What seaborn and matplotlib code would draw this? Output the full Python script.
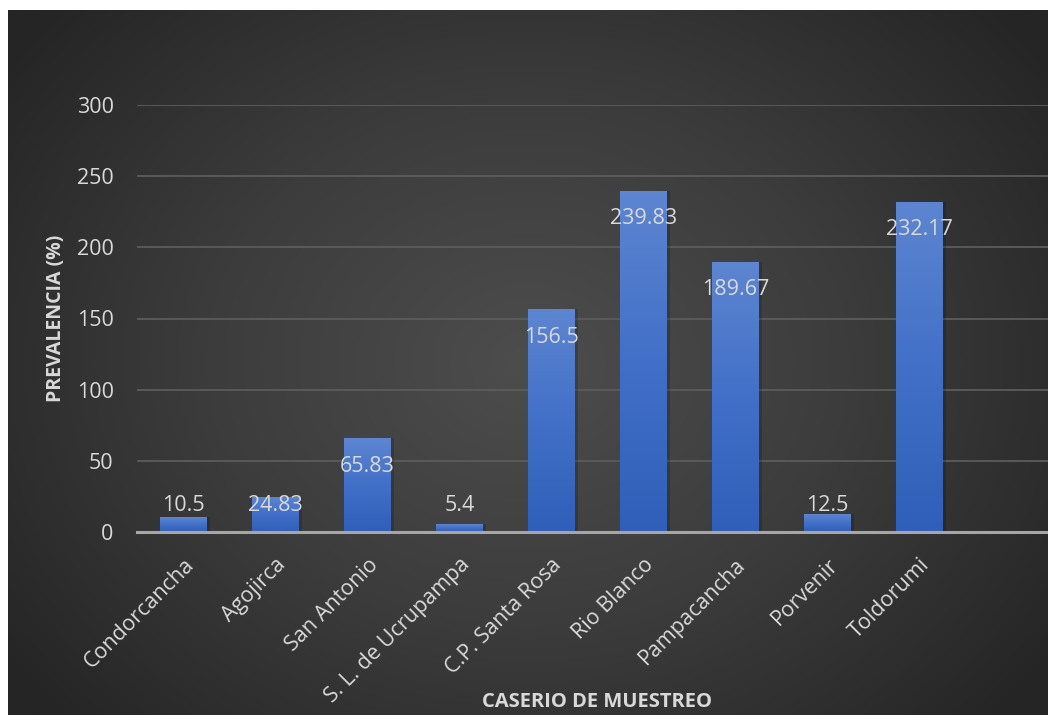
import numpy as np
import pandas as pd
import matplotlib
matplotlib.use("Agg")
import matplotlib.pyplot as plt
import seaborn as sns
from matplotlib.colors import LinearSegmentedColormap

categories = ["Condorcancha", "Agojirca", "San Antonio", "S. L. de Ucrupampa",
              "C.P. Santa Rosa", "Rio Blanco", "Pampacancha", "Porvenir", "Toldorumi"]
values = [10.5, 24.83, 65.83, 5.4, 156.5, 239.83, 189.67, 12.5, 232.17]
labels = ["10.5", "24.83", "65.83", "5.4", "156.5", "239.83", "189.67", "12.5", "232.17"]
yticks = [0, 50, 100, 150, 200, 250, 300]

sns.set_theme(style="white")
plt.rcParams['font.family'] = ['Open Sans', 'DejaVu Sans']

W, H = 1048, 715
fig = plt.figure(figsize=(W / 100, H / 100), dpi=100)
fig.patch.set_facecolor("white")

# dark radial-gradient panel
bg = fig.add_axes([8 / W, 0, 1 - 8 / W, 1 - 10 / H])
bg.set_axis_off()
yy, xx = np.mgrid[0:1:400j, 0:1:600j]
r = np.sqrt(((xx - 0.5) / 0.62) ** 2 + ((yy - 0.5) / 0.75) ** 2)
r = np.clip(r, 0, 1)
bgcmap = LinearSegmentedColormap.from_list("bg", ["#4d4d4d", "#3c3c3c", "#252525"])
bg.imshow(r, cmap=bgcmap, aspect="auto", extent=[0, 1, 0, 1], vmin=0, vmax=1)
bg.set_xlim(0, 1)
bg.set_ylim(0, 1)

left = 137.3 / W
bottom = (H - 532) / H
top = (H - 105) / H
ax = fig.add_axes([left, bottom, 1 - left, top - bottom])
ax.patch.set_alpha(0)

df = pd.DataFrame({"cat": categories, "val": values})
sns.barplot(data=df, x="cat", y="val", ax=ax, color="#4472c4", width=0.507,
            saturation=1, zorder=3, linewidth=0, edgecolor="none")

# gradient fill on each bar
barcmap = LinearSegmentedColormap.from_list("bar", ["#2f5fb8", "#4270c8", "#5d85d1"])
grad = np.linspace(0, 1, 256).reshape(-1, 1)
for p in list(ax.patches):
    x0, y0 = p.get_x(), p.get_y()
    w, h = p.get_width(), p.get_height()
    ax.bar(x0 + w / 2 + 0.035, h, width=w, bottom=0, color="black", alpha=0.16,
           zorder=2, align="center", linewidth=0)
    im = ax.imshow(grad, cmap=barcmap, origin="lower", aspect="auto",
                   extent=[x0, x0 + w, y0, y0 + h], zorder=3.5, vmin=0, vmax=1)
    im.set_clip_path(p)

ax.set_xlim(-0.5, (W - 183.3) / 92.0)
ax.set_ylim(0, 300)
ax.set_yticks(yticks)
ax.set_yticklabels([str(t) for t in yticks])
ax.grid(axis="y", color="#5c5c5c", linewidth=1.3, zorder=0)
ax.set_axisbelow(True)
for s in ["top", "right", "left"]:
    ax.spines[s].set_visible(False)
ax.spines["bottom"].set_color("#a6a6a6")
ax.spines["bottom"].set_linewidth(2.2)
ax.spines["bottom"].set_zorder(5)

ax.tick_params(axis="y", length=0, pad=17, labelsize=15.5, labelcolor="#d9d9d9")
ax.tick_params(axis="x", length=0, pad=16, labelsize=15.5, labelcolor="#d9d9d9")
plt.setp(ax.get_xticklabels(), rotation=45, ha="right", rotation_mode="anchor")

ax.set_xlabel("")
ax.set_ylabel("")
fig.text(597 / W, 1 - 702 / H, "CASERIO DE MUESTREO", ha="center", va="center",
         fontsize=14.5, fontweight="bold", color="#d9d9d9")
fig.text(56 / W, 1 - 318 / H, "PREVALENCIA (%)", ha="center", va="center",
         rotation=90, fontsize=14, fontweight="bold", color="#d9d9d9")

for i, (v, lab) in enumerate(zip(values, labels)):
    ypos = max(v - 19.5, 18.3)
    ax.text(i, ypos, lab, ha="center", va="center", fontsize=15.5,
            color="#d9d9d9", zorder=6)

fig.savefig("out.png", dpi=100, facecolor=fig.get_facecolor())
